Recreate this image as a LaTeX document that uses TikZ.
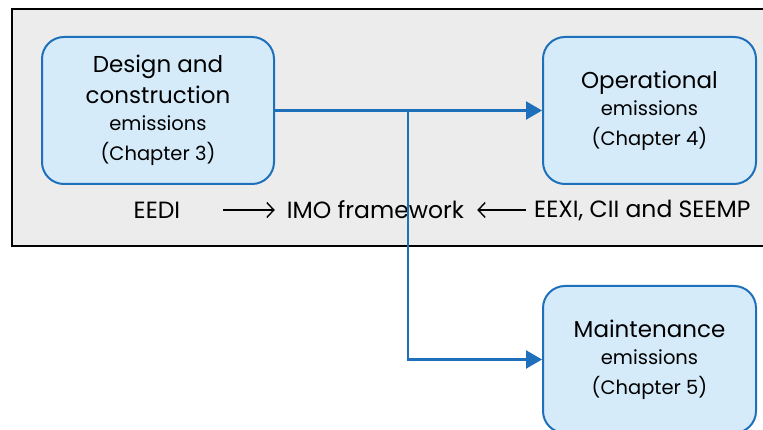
\documentclass[tikz,border=0pt]{standalone}
\usepackage{fontspec}
\setmainfont{Poppins}
\usetikzlibrary{arrows.meta,calc,positioning}
\definecolor{boxblue}{RGB}{214,235,250}
\definecolor{lineblue}{RGB}{31,112,186}
\definecolor{panelgrey}{RGB}{236,236,236}
\newcommand{\bigline}{\fontsize{23}{30}\selectfont}
\newcommand{\smallline}{\fontsize{19.5}{30}\selectfont}
\begin{document}
\begin{tikzpicture}[x=1pt,y=-1pt,
  stage/.style={draw=lineblue,fill=boxblue,line width=2pt,rounded corners=22pt,
    minimum width=213pt,minimum height=147pt,align=center,inner sep=0pt,
    font=\fontsize{19.5}{30}\selectfont},
  flow/.style={draw=lineblue,line width=2.2pt,-{Triangle[length=16pt,width=18pt]}},
  tag/.style={font=\fontsize{23.5}{26}\selectfont,inner sep=0pt},
  textarrow/.style={line width=1.4pt,-{Straight Barb[length=7pt,width=15pt]}}]
 \useasboundingbox (0,0) rectangle (763,430);
 \clip (0,0) rectangle (763,430);
 % framework panel
 \draw[fill=panelgrey,line width=1.8pt] (12,9) rectangle (790,246);
 % the three stages
 \node[stage,minimum width=232pt] (design) at (158,110.5)
   {\bigline Design and\\[1pt]\bigline construction\\[-3pt]\smallline emissions\\\smallline (Chapter 3)};
 \node[stage] (oper) at (649.5,110.5)
   {\bigline Operational\\[-3pt]\smallline emissions\\\smallline (Chapter 4)};
 \node[stage] (maint) at (649.5,359.5)
   {\bigline Maintenance\\[-3pt]\smallline emissions\\\smallline (Chapter 5)};
 % regulation line
 \node[tag] (eedi) at (157,210) {EEDI};
 \node[tag] (imo) at (375.5,210) {IMO framework};
 \node[tag,anchor=west] (eexi) at (534,210) {EEXI, CII and SEEMP};
 \draw[textarrow,shorten <=43pt,shorten >=12pt] (eedi.east) -- (imo.west);
 \draw[textarrow,shorten <=8pt,shorten >=13pt] (eexi.west) -- (imo.east);
 % flows
 \coordinate (split) at (408,110.5);
 \draw[flow] (design.east) -- (oper.west);
 \draw[flow] (split) |- (maint.west);
\end{tikzpicture}
\end{document}
